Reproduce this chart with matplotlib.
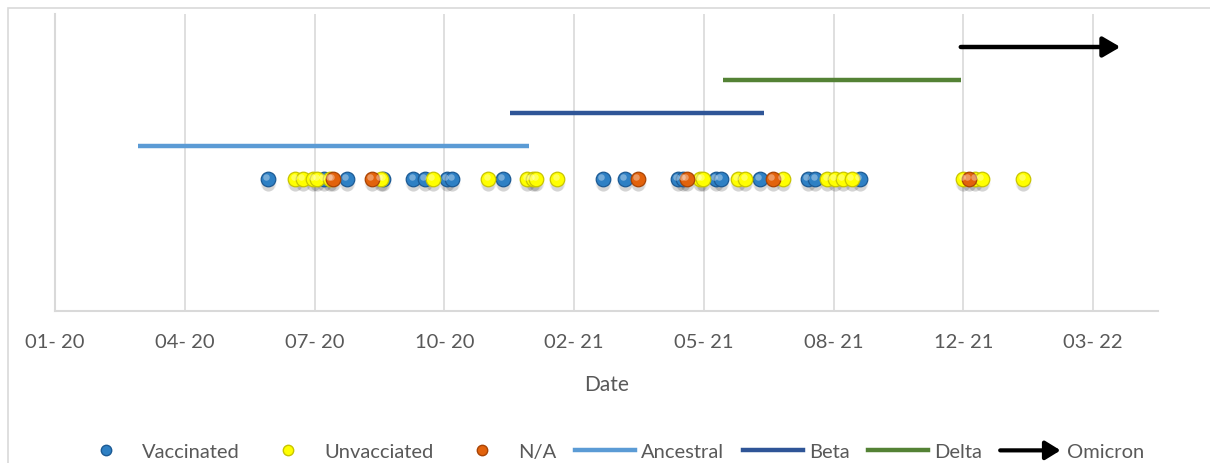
import matplotlib
matplotlib.use('Agg')
import matplotlib.pyplot as plt
import matplotlib.patches as mpatches
import matplotlib.transforms as mtransforms
import matplotlib.dates as mdates
from matplotlib.lines import Line2D
from matplotlib.legend_handler import HandlerBase
import numpy as np

plt.rcParams['font.family'] = ['Lato', 'DejaVu Sans']

START = np.datetime64('2020-01-01')

# sampling dates, days since 2020-01-01
vaccinated_days = [164, 207, 225, 253, 276, 285, 302, 306, 345, 422, 439,
                   480, 484, 509, 513, 543, 580, 586, 620]
unvaccinated_days = [185, 191, 199, 202, 212, 251, 291, 334, 364, 368, 371,
                     387, 497, 499, 526, 532, 561, 595, 601, 607, 614,
                     700, 709, 714, 746]
na_days = [214, 244, 449, 487, 553, 704]
sample_level = 4

# circulating variant periods
variant_names = ['Ancestral', 'Beta', 'Delta', 'Omicron']
variant_start = [64, 351, 515, 698]
variant_end = [365, 546, 698, 821]
variant_level = [5, 6, 7, 8]
variant_colors = ['#5B9BD5', '#2F5597', '#548235', '#000000']

tick_days = [0, 100, 200, 300, 400, 500, 600, 700, 800]
x_max_days = 850

GRID = '#D9D9D9'
TEXT = '#595959'


def to_num(days):
    d = START + np.asarray(days, dtype='timedelta64[D]')
    return mdates.date2num(d)


class ArrowHandler(HandlerBase):
    def create_artists(self, legend, orig_handle, xdescent, ydescent,
                       width, height, fontsize, trans):
        y = height / 2 - ydescent
        arr = mpatches.FancyArrowPatch((-xdescent, y), (-xdescent + width, y),
                                       arrowstyle='-|>,head_length=0.65,head_width=0.4',
                                       mutation_scale=14, color='black', lw=3,
                                       shrinkA=0, shrinkB=0, transform=trans)
        return [arr]


fig = plt.figure(figsize=(12.1, 4.64), dpi=100)
fig.patch.set_facecolor('white')
ax = fig.add_axes([55 / 1210, 1 - 312 / 464, (1158 - 55) / 1210, (312 - 15) / 464])

# chart border
fig.patches.append(mpatches.Rectangle((8 / 1210, -0.1), 1.2, 1 - 9 / 464 + 0.1,
                                      transform=fig.transFigure, fill=False,
                                      edgecolor=GRID, lw=1.2))

ax.set_xlim(to_num([0])[0], to_num([x_max_days])[0])
ax.set_ylim(0, 9)
ax.set_yticks([])
ax.set_xticks(to_num(tick_days))
ax.xaxis.set_major_formatter(mdates.DateFormatter('%m- %y'))
ax.tick_params(axis='x', length=0, pad=16, labelsize=14.5, labelcolor=TEXT)
ax.grid(axis='x', color=GRID, lw=1.2)
ax.set_axisbelow(True)
for s in ['top', 'right']:
    ax.spines[s].set_visible(False)
for s in ['left', 'bottom']:
    ax.spines[s].set_color(GRID)
    ax.spines[s].set_linewidth(1.5)
ax.set_xlabel('Date', fontsize=15, color=TEXT, labelpad=17)

# variant bars
for name, a, b, lv, c in zip(variant_names, variant_start, variant_end,
                             variant_level, variant_colors):
    xa, xb = to_num([a, b])
    if name == 'Omicron':
        ax.add_patch(mpatches.FancyArrowPatch((xa, lv), (xb, lv),
                                              arrowstyle='-|>,head_length=0.65,head_width=0.38',
                                              mutation_scale=16, color=c, lw=3.2,
                                              shrinkA=0, shrinkB=0))
    else:
        ax.plot([xa, xb], [lv, lv], color=c, lw=3.2, solid_capstyle='butt')

# sample dots with shadow and highlight
shadow_tr = mtransforms.offset_copy(ax.transData, fig=fig, x=0, y=-4, units='dots')
shadow_tr2 = mtransforms.offset_copy(ax.transData, fig=fig, x=0, y=-6, units='dots')
shine_tr = mtransforms.offset_copy(ax.transData, fig=fig, x=-1.5, y=2.5, units='dots')
groups = [(vaccinated_days, '#2E80C4', '#1C5A94'),
          (unvaccinated_days, '#FFFF00', '#C8C400'),
          (na_days, '#E2620C', '#A84405')]
for days, fc, ec in groups:
    x = to_num(days)
    y = np.full(len(x), sample_level)
    ax.scatter(x, y, s=130, color='black', alpha=0.07, lw=0,
               transform=shadow_tr, zorder=3)
    ax.scatter(x, y, s=80, color='black', alpha=0.10, lw=0,
               transform=shadow_tr2, zorder=3)
    ax.scatter(x, y, s=110, color=fc, edgecolor=ec, lw=0.9, zorder=4)
    ax.scatter(x, y, s=22, color='white', alpha=0.35, lw=0,
               transform=shine_tr, zorder=5)

handles = [Line2D([], [], ls='', marker='o', ms=7.5, mfc='#2E80C4', mec='#1C5A94'),
           Line2D([], [], ls='', marker='o', ms=7.5, mfc='#FFFF00', mec='#C8C400'),
           Line2D([], [], ls='', marker='o', ms=7.5, mfc='#E2620C', mec='#A84405'),
           Line2D([], [], color=variant_colors[0], lw=3.2),
           Line2D([], [], color=variant_colors[1], lw=3.2),
           Line2D([], [], color=variant_colors[2], lw=3.2),
           mpatches.Patch(color='black')]
labels = ['Vaccinated', 'Unvacciated', 'N/A'] + variant_names
leg = fig.legend(handles, labels, loc='center', bbox_to_anchor=(0.504, 0.024),
                 ncol=7, frameon=False, fontsize=14.5, handlelength=3.0,
                 handletextpad=0.3, columnspacing=0.9,
                 handler_map={mpatches.Patch: ArrowHandler()})
for t in leg.get_texts():
    t.set_color(TEXT)

fig.savefig('out.png', dpi=100, facecolor='white')
